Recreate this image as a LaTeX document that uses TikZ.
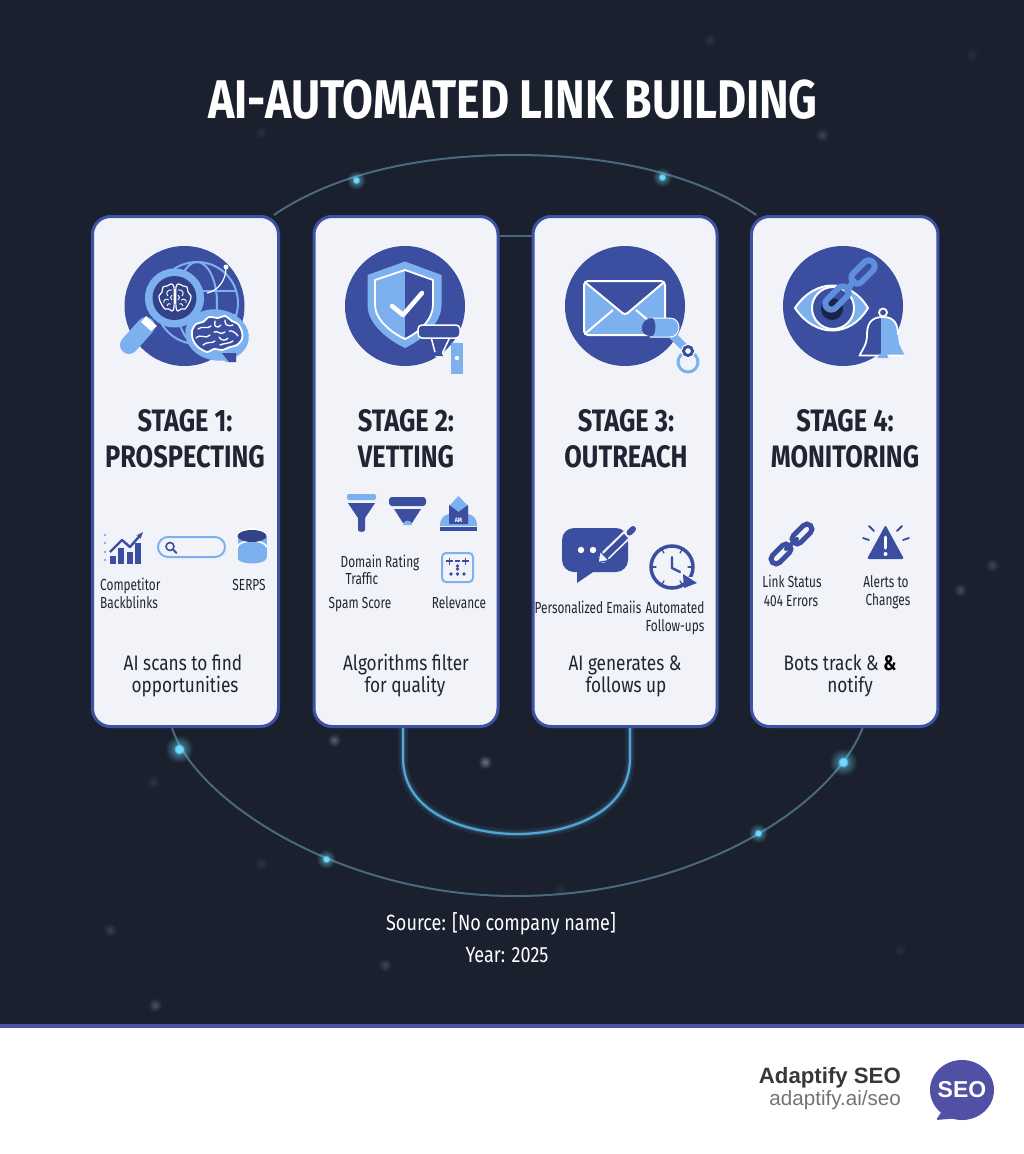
\documentclass[tikz,border=0pt]{standalone}
\usepackage{fontspec}
\usetikzlibrary{arrows.meta,fadings}
\setmainfont[FakeStretch=0.82]{Fira Sans}
\newfontfamily\narrowfont[FakeStretch=0.74]{Fira Sans}
\newfontfamily\logofont{Liberation Sans}
\definecolor{nightbg}{HTML}{1A202D}
\definecolor{cardfill}{HTML}{F1F3F8}
\definecolor{cardedge}{HTML}{3D52A5}
\definecolor{iconblue}{HTML}{3B4EA0}
\definecolor{skyblue}{HTML}{7DB0EE}
\definecolor{linkblue}{HTML}{5F8EDC}
\definecolor{inktext}{HTML}{1F2533}
\definecolor{arcgray}{HTML}{4A687F}
\definecolor{arcblue}{HTML}{54A8D6}
\definecolor{glowcore}{HTML}{6FDCFF}
\definecolor{starcolor}{HTML}{9A9CB5}
\definecolor{logoblue}{HTML}{5050A5}
\pgfdeclareradialshading{glowmask}{\pgfpointorigin}{color(0bp)=(white); color(4bp)=(white); color(6bp)=(white!40!black); color(16bp)=(black); color(50bp)=(black)}
\pgfdeclarefading{glowfade}{\pgfuseshading{glowmask}}
\tikzset{
	stagecard/.style = {draw = cardedge, fill = cardfill, line width = 3,
		rounded corners = 18, inner sep = 0},
	stagehead/.style = {text = inktext, align = center, inner sep = 0,
		font = \fontsize{31}{36}\selectfont\bfseries},
	stagedesc/.style = {text = inktext, inner sep = 0, text height = 15, text depth = 4,
		font = \fontsize{21}{23}\selectfont},
	iconlabel/.style = {text = inktext, inner sep = 0, text height = 11, text depth = 3,
		font = \narrowfont\fontsize{16}{18}\selectfont},
	sourcetext/.style = {text = white, inner sep = 0,
		font = \fontsize{22}{24}\selectfont},
	glowdot/.style = {circle, fill = glowcore, minimum size = #1, inner sep = 0,
		path fading = glowfade},
	faintdot/.style = {circle, inner color = starcolor!#1!nightbg, outer color = nightbg,
		minimum size = 14, inner sep = 0},
	arcline/.style = {draw = arcgray, line width = 2},
	ubendline/.style = {draw = arcblue, line width = 2.2,
		preaction = {draw = arcblue, line width = 10, opacity = 0.1},
		preaction = {draw = arcblue, line width = 5, opacity = 0.2}},
	iconround/.style = {fill = iconblue},
	skystroke/.style = {draw = skyblue, line cap = round},
	inkstroke/.style = {draw = iconblue, line cap = round}
}
\begin{document}
\begin{tikzpicture}[x=1pt, y=-1pt]
	\useasboundingbox (0,0) rectangle (1024,1154);
	\fill[nightbg] (0,0) rectangle (1024,1025);
	\fill[logoblue] (0,1024) rectangle (1024,1027.5);
	
	\foreach \px/\py/\po [count=\i] in {485/762/65, 334/740/50, 960/590/35, 992/565/30,
		155/1005/40, 822/135/30, 110/930/25, 385/965/30, 710/40/15, 261/133/12, 972/55/12,
		261/863/15, 153/782/15, 560/890/12, 900/950/12}
		\node [faintdot = \po] (spot\i) at (\px,\py) {};
	
	\node [stagecard, minimum width = 186, minimum height = 510] (card1) at (185.5,471.5) {};
	\node [stagecard, minimum width = 184, minimum height = 510] (card2) at (406,471.5) {};
	\node [stagecard, minimum width = 184, minimum height = 510] (card3) at (625,471.5) {};
	\node [stagecard, minimum width = 186.5, minimum height = 510] (card4) at (844.7,471.5) {};
	
	\draw[arcline] (card1.71) .. controls (340,170) and (430,155) .. (515,155)
		.. controls (600,155) and (690,170) .. (card4.109);
	\draw[arcline] (card1.-93.5) .. controls (195,800) and (340,896) .. (515,896)
		.. controls (690,896) and (830,810) .. (card4.-86);
	\draw[arcline] (card2.east |- 0,236) -- (card3.west |- 0,236);
	\draw[ubendline] (card2.south -| 403,0) -- (403,758) .. controls (403,815) and (470,834) .. (517,834)
		.. controls (565,834) and (630,815) .. (630,758) -- (card3.south -| 630,0);
	
	\node [glowdot = 30] (dot1) at (356,180) {};
	\node [glowdot = 30] (dot2) at (662,177) {};
	\node [glowdot = 44] (dot3) at (179,749) {};
	\node [glowdot = 30] (dot4) at (326,859) {};
	\node [glowdot = 30] (dot5) at (758,833) {};
	\node [glowdot = 44] (dot6) at (843,762) {};
	
	\node [text = white, inner sep = 0, font = \fontsize{54.5}{58}\selectfont\bfseries]
		(maintitle) at (513,100) {AI-AUTOMATED LINK BUILDING};
	
	\foreach \cx in {184.5,405,625,843}
		\fill[iconround] (\cx,306) circle [radius = 60];
	
	\draw[skyblue, line width = 2] (197,303) circle [radius = 41];
	\draw[skyblue, line width = 2] (197,303) ellipse [x radius = 20, y radius = 41];
	\draw[skyblue, line width = 2] (157,291) -- (237,291) (157,315) -- (237,315);
	\draw[white, line width = 1.2] (207,293) .. controls (218,291) and (226,280) .. (226,268);
	\fill[white] (226,267) circle [radius = 2.5];
	\draw[skystroke, line width = 18] (146,326) -- (129,345);
	\fill[white] (146,316) -- (157,326) -- (151,331) -- (141,322) -- cycle;
	\fill[skyblue] (174.5,298) circle [radius = 29.5];
	\fill[iconblue!85!black] (174.5,298) circle [radius = 22];
	\begin{scope}[shift = {(175,298)}]
		\foreach \flip in {-1,1} {
			\draw[white, line width = 1.2, xscale = \flip] plot[smooth cycle] coordinates
				{(1,-11) (4,-14) (8,-12) (12,-11) (13,-6) (16,-2) (15,3) (13,7) (10,11) (6,11) (3,13) (1,9)};
			\draw[white, line width = 0.9, xscale = \flip]
				(3,-8) .. controls (7,-9) and (10,-5) .. (7,-2)
				(3,-3) .. controls (5,-2) and (5,1) .. (3,2)
				(6,2) .. controls (9,0) and (12,2) .. (11,5)
				(4,6) .. controls (6,5) and (8,6) .. (8,8);
		}
	\end{scope}
	\fill[skyblue, rotate around = {-10:(217,335)}] (217,335) ellipse [x radius = 32, y radius = 25.5];
	\fill[skyblue] (216,352) -- (236,352) -- (236,362) -- (226,362) -- cycle;
	\begin{scope}[shift = {(217,335)}]
		\draw[white, fill = iconblue, line width = 1.8] plot[smooth cycle] coordinates
			{(-25,-4) (-21,-11) (-14,-13) (-8,-18) (1,-17) (8,-19) (15,-14) (21,-11) (25,-3) (25,4)
			(20,10) (13,12) (5,15) (-3,14) (-10,17) (-19,12) (-24,5)};
		\draw[white, line width = 1.3, line cap = round]
			(-19,-6) .. controls (-14,-10) and (-10,-5) .. (-6,-9)
			(-2,-14) .. controls (-4,-8) and (1,-6) .. (4,-10)
			(8,-15) .. controls (7,-10) and (12,-8) .. (16,-10)
			(-21,3) .. controls (-16,-2) and (-11,5) .. (-7,0)
			(-3,-3) .. controls (1,-5) and (3,1) .. (8,-3)
			(12,-4) .. controls (15,-5) and (19,-2) .. (21,1)
			(-14,10) .. controls (-10,6) and (-5,9) .. (-2,6)
			(2,2) .. controls (4,6) and (9,6) .. (11,3)
			(3,10) .. controls (7,8) and (12,9) .. (16,6);
	\end{scope}
	\fill[iconblue] (222,353) -- (236,353) -- (236,362) -- (229,362) -- cycle;
	
	\fill[skyblue] (367.5,275) -- (405,261.5) -- (441.5,275) -- (441.5,305)
		.. controls (441.5,325) and (420,341) .. (405,348)
		.. controls (390,341) and (367.5,325) .. (367.5,305) -- cycle;
	\fill[iconblue] (405,270) -- (433,280) -- (433,305)
		.. controls (433,320) and (418,333) .. (405,339) -- cycle;
	\draw[white, line width = 1.8, line join = round] (375,280) -- (405,270) -- (433,280) -- (433,305)
		.. controls (433,320) and (418,333) .. (405,339)
		.. controls (392,333) and (375,320) .. (375,305) -- cycle;
	\draw[white, line width = 4.5, line cap = round, line join = round]
		(392,306) -- (403,315) -- (422,293);
	\fill[iconblue, draw = white, line width = 1.5] (431,337) -- (450,337) -- (441,356) -- (436,356) -- cycle;
	\fill[iconblue] (433,356) arc [start angle = 180, end angle = 360, radius = 5] -- cycle;
	\fill[iconblue, draw = white, line width = 1.5, rounded corners = 4]
		(418,325) rectangle (460,338);
	\fill[skyblue] (451,343) -- (463,343) -- (463,373.5) -- (451,373.5) -- cycle;
	\fill[white] (457,358) circle [radius = 2.2];
	
	\fill[skyblue] (584,281) rectangle (665,335);
	\fill[iconblue] (584,281) -- (665,281) -- (625,315) -- cycle;
	\draw[white, line width = 2, rounded corners = 4] (584,281) rectangle (665,335);
	\draw[white, line width = 2] (586,283) -- (620,311) .. controls (624,315) and (626,315) .. (630,311) -- (663,283)
		(586,333) -- (613,310) (663,333) -- (636,310);
	\draw[skystroke, line width = 8] (673,336) -- (687,350);
	\fill[skyblue] (650,318) -- (670,318) .. controls (682,318) and (682,337) .. (670,337) -- (650,337) -- cycle;
	\draw[white, line width = 1] (650,318) -- (670,318) .. controls (682,318) and (682,337) .. (670,337) -- (650,337);
	\fill[iconblue] (652,318) .. controls (640,318) and (637,337) .. (652,336) .. controls (656,336) and (657,320) .. (652,318) -- cycle;
	\draw[skyblue, line width = 3] (688,362) circle [radius = 10];
	\fill[white] (688,351) circle [radius = 7];
	\draw[iconblue, line width = 3] (688,351) circle [radius = 4.5];
	
	\fill[skyblue, draw = white, line width = 2] (795,308) .. controls (815,278) and (850,278) .. (868,308)
		.. controls (850,338) and (815,338) .. (795,308) -- cycle;
	\fill[iconblue, draw = white, line width = 2] (833,308) circle [radius = 21];
	\fill[iconblue!45!black] (832,309) circle [radius = 11];
	\draw[linkblue, line width = 6, rounded corners = 6, rotate around = {45:(837,298)}]
		(823,292) rectangle (851,304);
	\draw[linkblue, line width = 6, line cap = round] (847,290) -- (854,281);
	\draw[linkblue, line width = 6, rounded corners = 6, rotate around = {45:(863,272)}]
		(849,266) rectangle (877,278);
	\fill[iconblue] (883,317) .. controls (870,317) and (867,325) .. (867,335)
		.. controls (867,345) and (862,350) .. (859.5,355.5) -- (883,355.5) -- cycle;
	\fill[skyblue] (881,317) .. controls (895,317) and (898,325) .. (898,335)
		.. controls (898,345) and (902,350) .. (905,355.5) -- (881,355.5) -- cycle;
	\draw[white, line width = 1.8, line join = round] (898,335) .. controls (898,325) and (895,317) .. (883,317)
		.. controls (870,317) and (867,325) .. (867,335)
		.. controls (867,345) and (862,350) .. (859.5,355.5) -- (905,355.5);
	\draw[white, line width = 1.8] (883,312.5) circle [radius = 4];
	\fill[skyblue] (877.5,358) arc [start angle = 180, end angle = 360, radius = 5.5] -- cycle;
	
	\foreach \dy in {535,543,552,560}
		\fill[skyblue] (105,\dy) circle [radius = 1.4];
	\foreach \bx/\by in {110/556, 118/548, 127/552, 135/543}
		\fill[iconblue] (\bx,\by) rectangle (\bx+5.5,564);
	\draw[iconblue, line width = 2.4, line join = round, -{Stealth[length = 7]}]
		(110,552) -- (122,540) -- (130,547) -- (143,532);
	\draw[skyblue, line width = 2, rounded corners = 10] (158,537) rectangle (225,557);
	\draw[iconblue, line width = 1.6] (170,546.5) circle [radius = 4];
	\draw[inkstroke, line width = 1.8] (173,549.5) -- (176.5,553);
	\fill[skyblue] (237.5,536) rectangle (266.5,558);
	\fill[skyblue] (252,558) ellipse [x radius = 14.5, y radius = 5.5];
	\draw[white, line width = 1.6] (237.5,536.5) arc [start angle = 180, end angle = 360, x radius = 14.5, y radius = 7.5]
		(237.5,547) arc [start angle = 180, end angle = 360, x radius = 14.5, y radius = 6];
	\fill[iconblue!85!black] (252,536) ellipse [x radius = 14.5, y radius = 6];
	
	\fill[skyblue, rounded corners = 2] (347,494) rectangle (376,500);
	\fill[iconblue] (348,503) -- (375,503) -- (365,518) -- (365,530) .. controls (365,532.5) and (358,532.5) .. (358,530) -- (358,518) -- cycle;
	\fill[iconblue, rounded corners = 3] (389,497) rectangle (426,506);
	\fill[iconblue] (394,509) -- (421,509) -- (412,523) -- (403,523) -- cycle;
	\fill[skyblue] (403,525) -- (412,525) arc [start angle = 0, end angle = 180, x radius = 4.5, y radius = -4.5] -- cycle;
	\fill[skyblue] (458.5,496) -- (468,506) -- (468,516) -- (449,516) -- (449,506) -- cycle;
	\fill[skyblue] (440,526) .. controls (440,518) and (444,515) .. (449,514) -- (468,514) .. controls (473,515) and (477,518) .. (477,526) -- cycle;
	\fill[iconblue] (449,505) -- (458.5,512) -- (468,505) -- (468,524) -- (449,524) -- cycle;
	\fill[iconblue] (440,527) rectangle (477,530.5);
	\node [text = white, inner sep = 0, font = \fontsize{6.5}{7}\selectfont\bfseries]
		(towerlabel) at (458.5,520) {AM};
	
	\draw[skyblue, line width = 2, rounded corners = 4] (442,553) rectangle (473,582);
	\draw[iconblue, line width = 1.2] (446,561) -- (453,561) (449.5,557.5) -- (449.5,564.5)
		(462,561) -- (469,561) (465.5,557.5) -- (465.5,564.5) (455,561) -- (460,561);
	\foreach \dx/\dy in {457.5/566, 451/574, 457.5/574, 464/574, 457.5/569}
		\fill[iconblue] (\dx,\dy) circle [radius = 1.8];
	
	\fill[iconblue, rounded corners = 12] (562,528) rectangle (628,572);
	\fill[iconblue] (577,568) -- (577,583) -- (596,570) -- cycle;
	\fill[white] (581,550) circle [radius = 3.2] (593,550) circle [radius = 3.2];
	\draw[cardfill, line width = 10, line cap = round] (603,558) -- (632,530);
	\draw[iconblue, line width = 6] (604.5,557) -- (626,536);
	\draw[iconblue, line width = 6, line cap = round] (629.5,532.5) -- (633,529);
	\fill[cardfill, draw = iconblue, line width = 1.2] (598,562.5) -- (600,551) -- (609,560.5) -- cycle;
	
	\draw[iconblue, line width = 3.5] (672,567) circle [radius = 21];
	\foreach \ang in {0,60,...,300}
		\draw[inkstroke, line width = 1.2] (672,567) ++(\ang:16) -- ++(\ang:3);
	\draw[inkstroke, line width = 2.4] (672,557) -- (672,568) -- (680,572);
	\fill[cardfill] (684,577) rectangle (698,590);
	\fill[iconblue] (683,574) -- (697,583) -- (684,588) -- cycle;
	
	\draw[iconblue, line width = 5, rounded corners = 5, rotate around = {45:(781,554)}]
		(769,549) rectangle (793,559);
	\draw[iconblue, line width = 5, rounded corners = 5, rotate around = {45:(802,534)}]
		(790,529) rectangle (814,539);
	\draw[iconblue, line width = 4, line cap = round] (786,549) -- (797,539);
	\fill[iconblue, rounded corners = 2] (867,559) -- (904,559) -- (885.5,525) -- cycle;
	\draw[white, line width = 3, line cap = round] (885.5,537) -- (885.5,548);
	\fill[white] (885.5,554) circle [radius = 2];
	\draw[inkstroke, line width = 1.8] (869,526) -- (874,531) (902,526) -- (897,531)
		(863,538) -- (869,540) (909,538) -- (903,540);
	
	\node [stagehead] (head1) at (185,439) {STAGE 1:\\PROSPECTING};
	\node [stagehead] (head2) at (406,439) {STAGE 2:\\VETTING};
	\node [stagehead] (head3) at (626,439) {STAGE 3:\\OUTREACH};
	\node [stagehead] (head4) at (845,439) {STAGE 4:\\MONITORING};
	
	\node [iconlabel, anchor = west] (label1a) at (100,586) {Competitor};
	\node [iconlabel, anchor = west] (label1b) at (100,604) {Backblinks};
	\node [iconlabel] (label1c) at (249,586) {SERPS};
	\node [iconlabel] (label2a) at (380,563) {Domain Rating};
	\node [iconlabel] (label2b) at (362,580) {Traffic};
	\node [iconlabel] (label2c) at (360,604) {Spam Score};
	\node [iconlabel] (label2d) at (459,604) {Relevance};
	\node [iconlabel] (label3a) at (588,609) {Personalized Emaiis};
	\node [iconlabel] (label3b) at (675,609) {Automated};
	\node [iconlabel] (label3c) at (675,627) {Follow-ups};
	\node [iconlabel] (label4a) at (792,583) {Link Status};
	\node [iconlabel] (label4b) at (791,602) {404 Errors};
	\node [iconlabel] (label4c) at (886,583) {Alerts to};
	\node [iconlabel] (label4d) at (888,601) {Changes};
	
	\node [stagedesc] (desc1a) at (183,664.5) {AI scans to find};
	\node [stagedesc] (desc1b) at (185,687) {opportunities};
	\node [stagedesc] (desc2a) at (406,664.5) {Algorithms filter};
	\node [stagedesc] (desc2b) at (405,687) {for quality};
	\node [stagedesc] (desc3a) at (625,664.5) {AI generates \&};
	\node [stagedesc] (desc3b) at (626,687) {follows up};
	\node [stagedesc] (desc4a) at (840,664.5) {Bots track \& {\bfseries\textcolor{black}{\&}}};
	\node [stagedesc] (desc4b) at (850,687) {notify};
	
	\node [sourcetext] (source) at (501,924) {Source: [No company name]};
	\node [sourcetext] (year) at (507,955) {Year: 2025};
	
	\node [anchor = east, inner sep = 0, text = black!78, font = \logofont\fontsize{22.2}{26}\selectfont\bfseries]
		(brandname) at (901,1078) {Adaptify SEO};
	\node [anchor = east, inner sep = 0, text = black!55, font = \logofont\fontsize{20.6}{23}\selectfont]
		(brandurl) at (901,1100) {adaptify.ai/seo};
	\fill[logoblue] (962,1090) ellipse [x radius = 32, y radius = 30];
	\fill[logoblue, rounded corners = 1.5] (944,1108) -- (936,1120) -- (960,1118) -- cycle;
	\node [text = white, inner sep = 0, font = \logofont\fontsize{23}{26}\selectfont\bfseries]
		(brandseo) at (962,1090) {SEO};
	
\end{tikzpicture}
\end{document}
